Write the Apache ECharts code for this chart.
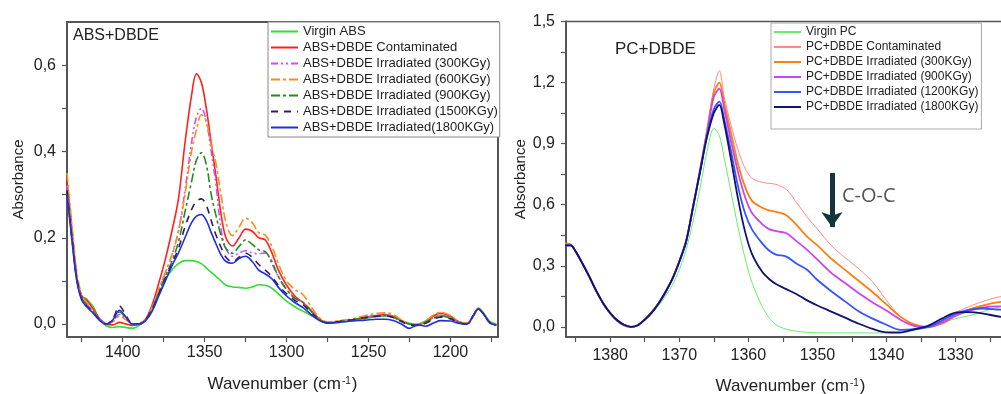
<!DOCTYPE html>
<html>
<head>
<meta charset="utf-8">
<script src="https://cdn.jsdelivr.net/npm/echarts@6/dist/echarts.min.js"></script>
<style>
html,body{margin:0;padding:0;background:#fff;}
#chart{width:1001px;height:394px;}
</style>
</head>
<body>
<div id="chart"></div>
<script>
// ---------- Left panel (ABS + DBDE) ----------
const absWavenumbers = [1434,1431,1428,1425,1422, 1418,1414,1410,1406,1402, 1398,1394,1390,1386,1382,
  1378,1374,1370,1366,1362, 1358,1355,1352,1349,1346, 1343,1340,1337,1333,1329,
  1325,1321,1317,1313,1309, 1305,1300,1295,1290,1285, 1280,1275,1268,1260,1252,
  1245,1240,1235,1230,1225, 1220,1215,1210,1206,1200, 1195,1190,1186,1183,1180, 1176,1172];
const absVirgin = [0.31,0.20,0.10,0.065,0.058, 0.04,0.01,-0.004,-0.008,-0.006, -0.008,-0.01,-0.003,0.01,0.035,
  0.07,0.103,0.125,0.14,0.147, 0.147,0.145,0.14,0.13,0.12, 0.11,0.10,0.09,0.086,0.085,
  0.083,0.086,0.091,0.09,0.083, 0.07,0.053,0.04,0.03,0.02, 0.01,0.003,0.005,0.008,0.013,
  0.017,0.019,0.016,0.008,0.002, 0.0,0.008,0.018,0.02,0.016, 0.006,0.001,0.02,0.037,0.027, 0.006,0.0];
const absContaminated = [0.33,0.22,0.11,0.065,0.055, 0.035,0.012,0.0,-0.002,0.004, 0.0,-0.003,0.0,0.012,0.045,
  0.095,0.15,0.215,0.29,0.42, 0.53,0.58,0.56,0.50,0.42, 0.34,0.255,0.20,0.181,0.20,
  0.22,0.215,0.20,0.195,0.165, 0.125,0.09,0.065,0.05,0.032, 0.012,0.003,0.005,0.01,0.015,
  0.02,0.022,0.018,0.008,0.0, -0.002,0.005,0.02,0.025,0.018, 0.005,0.002,0.02,0.035,0.025, 0.003,-0.002];
const abs300 = [0.32,0.21,0.11,0.06,0.045, 0.03,0.01,0.0,0.008,0.022, 0.012,0.0,0.0,0.01,0.038,
  0.078,0.118,0.16,0.215,0.31, 0.42,0.48,0.50,0.47,0.40, 0.32,0.22,0.175,0.157,0.165,
  0.17,0.165,0.163,0.165,0.14, 0.11,0.08,0.06,0.05,0.03, 0.01,0.003,0.006,0.01,0.016,
  0.02,0.021,0.017,0.008,0.0, -0.002,0.004,0.016,0.02,0.015, 0.004,0.0,0.02,0.035,0.024, 0.003,-0.002];
const abs600 = [0.35,0.23,0.12,0.068,0.05, 0.03,0.01,0.0,0.005,0.018, 0.01,0.0,0.0,0.012,0.04,
  0.08,0.12,0.16,0.215,0.30, 0.40,0.45,0.485,0.47,0.415, 0.37,0.30,0.235,0.205,0.225,
  0.245,0.235,0.212,0.206,0.18, 0.14,0.10,0.08,0.068,0.04, 0.015,0.005,0.008,0.012,0.02,
  0.025,0.026,0.022,0.01,0.0, 0.0,0.008,0.022,0.027,0.02, 0.006,0.002,0.02,0.036,0.025, 0.004,-0.001];
const abs900 = [0.31,0.20,0.105,0.06,0.045, 0.028,0.01,0.0,0.008,0.028, 0.014,0.0,0.0,0.01,0.036,
  0.072,0.11,0.145,0.19,0.26, 0.33,0.38,0.397,0.37,0.30, 0.25,0.205,0.175,0.164,0.18,
  0.195,0.185,0.172,0.168,0.145, 0.11,0.08,0.06,0.05,0.03, 0.01,0.003,0.006,0.01,0.015,
  0.019,0.02,0.016,0.007,0.0, -0.002,0.004,0.014,0.018,0.014, 0.004,0.0,0.02,0.035,0.025, 0.004,-0.002];
const abs1500 = [0.31,0.20,0.105,0.058,0.042, 0.026,0.01,0.0,0.012,0.042, 0.02,0.0,0.0,0.01,0.035,
  0.07,0.105,0.14,0.175,0.225, 0.265,0.285,0.29,0.275,0.24, 0.205,0.178,0.155,0.144,0.155,
  0.164,0.155,0.138,0.125,0.11, 0.09,0.07,0.055,0.045,0.027, 0.009,0.003,0.006,0.01,0.015,
  0.018,0.019,0.015,0.006,-0.002, -0.003,0.002,0.012,0.016,0.012, 0.003,0.0,0.02,0.035,0.024, 0.003,-0.003];
const abs1800 = [0.30,0.195,0.10,0.055,0.04, 0.025,0.008,0.0,0.01,0.032, 0.016,0.0,0.0,0.008,0.03,
  0.065,0.10,0.135,0.165,0.20, 0.235,0.25,0.254,0.24,0.212, 0.185,0.16,0.145,0.141,0.152,
  0.157,0.145,0.125,0.116,0.105, 0.085,0.065,0.05,0.038,0.022, 0.008,0.002,0.004,0.007,0.009,
  0.011,0.011,0.008,0.0,-0.01, -0.002,-0.005,0.003,0.008,0.007, 0.002,0.0,0.02,0.035,0.024, 0.003,-0.003];
const absNames = ['Virgin ABS','ABS+DBDE Contaminated','ABS+DBDE Irradiated (300KGy)','ABS+DBDE Irradiated (600KGy)',
  'ABS+DBDE Irradiated (900KGy)','ABS+DBDE Irradiated (1500KGy)','ABS+DBDE Irradiated(1800KGy)'];
const absXTicks = [1425,1400,1375,1350,1325,1300,1275,1250,1225,1200,1175];
const absXLabels = [1400,1350,1300,1250,1200];
const absYTicks = [0,0.1,0.2,0.3,0.4,0.5,0.6];
const absYLabels = [0,0.2,0.4,0.6];

// ---------- Right panel (PC + DBDE) ----------
const pcWavenumbers = [1386.5,1385.7,1385,1384,1383,1382,1381,1380,1379,1378,
  1377,1376,1375,1374,1373,1372,1371,1370,1369,1368,
  1367,1366,1365,1364.2,1363.5,1362.5,1361.5,1360.5,1359.5,1358,
  1357,1356,1354.5,1353,1351.5,1350,1348,1346,1344,1342,
  1340,1338,1336,1334,1332,1330,1328,1326,1324,1322];
const pcVirgin = [0.40,0.40,0.37,0.31,0.245,0.175,0.115,0.068,0.032,0.01,
  0.0,0.008,0.033,0.065,0.105,0.15,0.205,0.28,0.38,0.52,
  0.68,0.86,0.975,0.94,0.83,0.66,0.49,0.34,0.22,0.10,
  0.045,0.01,-0.012,-0.022,-0.027,-0.029,-0.03,-0.03,-0.03,-0.03,
  -0.03,-0.028,-0.018,-0.002,0.02,0.04,0.055,0.075,0.095,0.11];
const pcContaminated = [0.41,0.405,0.37,0.31,0.24,0.17,0.11,0.062,0.027,0.004,
  -0.002,0.008,0.036,0.072,0.118,0.174,0.24,0.325,0.425,0.595,
  0.77,0.97,1.17,1.258,1.13,0.99,0.87,0.78,0.73,0.71,
  0.705,0.70,0.675,0.61,0.54,0.48,0.40,0.34,0.285,0.22,
  0.13,0.05,0.008,0.0,0.025,0.07,0.10,0.125,0.145,0.155];
const pc300 = [0.41,0.405,0.37,0.31,0.242,0.172,0.112,0.065,0.03,0.007,
  0.0,0.009,0.036,0.072,0.117,0.172,0.238,0.323,0.423,0.592,
  0.77,0.96,1.15,1.20,1.10,0.95,0.80,0.69,0.62,0.585,
  0.572,0.565,0.548,0.50,0.443,0.40,0.335,0.28,0.225,0.17,
  0.11,0.05,0.012,0.0,0.015,0.055,0.085,0.105,0.12,0.125];
const pc900 = [0.40,0.40,0.37,0.31,0.245,0.175,0.115,0.068,0.032,0.01,
  0.0,0.008,0.035,0.07,0.115,0.17,0.235,0.32,0.42,0.59,
  0.77,0.95,1.13,1.17,1.07,0.91,0.76,0.64,0.56,0.505,
  0.48,0.47,0.46,0.42,0.378,0.33,0.265,0.215,0.165,0.12,
  0.08,0.035,0.005,-0.002,0.02,0.055,0.08,0.095,0.10,0.10];
const pc1200 = [0.40,0.40,0.37,0.31,0.245,0.175,0.115,0.068,0.032,0.01,
  0.0,0.008,0.035,0.07,0.115,0.17,0.235,0.32,0.42,0.59,
  0.76,0.94,1.07,1.106,1.02,0.86,0.69,0.56,0.48,0.41,
  0.375,0.355,0.345,0.31,0.28,0.23,0.175,0.125,0.075,0.04,
  0.01,-0.015,-0.012,0.0,0.03,0.065,0.085,0.09,0.085,0.083];
const pc1800 = [0.40,0.40,0.37,0.31,0.245,0.175,0.115,0.068,0.032,0.01,
  0.0,0.008,0.035,0.07,0.115,0.17,0.235,0.32,0.42,0.59,
  0.76,0.93,1.05,1.09,1.00,0.82,0.63,0.47,0.36,0.27,
  0.235,0.21,0.185,0.16,0.13,0.105,0.075,0.045,0.015,-0.01,
  -0.027,-0.028,-0.012,0.005,0.04,0.07,0.072,0.065,0.052,0.043];
const pcNames = ['Virgin PC','PC+DBDE Contaminated','PC+DBDE Irradiated (300KGy)','PC+DBDE Irradiated (900KGy)',
  'PC+DBDE Irradiated (1200KGy)','PC+DBDE Irradiated (1800KGy)'];
const pcXTicks = [1385,1380,1375,1370,1365,1360,1355,1350,1345,1340,1335,1330,1325];
const pcXLabels = [1380,1370,1360,1350,1340,1330];
const pcYTicks = [0,0.15,0.3,0.45,0.6,0.75,0.9,1.05,1.2,1.35,1.5];
const pcYLabels = [0,0.3,0.6,0.9,1.2,1.5];
const arrowX = 1347.9, arrowTop = 0.756, arrowBottom = 0.49;

// ---------- build ----------
const FONT = 'Liberation Sans';
const zip = (xs, ys) => xs.map((x, i) => [x, ys[i]]);
const fmtY = v => v.toFixed(1).replace('.', ',');
const fmtX = v => String(v);

function line(name, xs, ys, idx, color, width, type, smooth) {
  return {
    name, type: 'line', xAxisIndex: idx, yAxisIndex: idx,
    data: zip(xs, ys), symbol: 'none', showSymbol: false, smooth: smooth,
    color: color, lineStyle: { color, width, type },
    emphasis: { disabled: true }, silent: true, z: 3
  };
}

function xAxis(idx, min, max, ticks, labels, margin, nameGap) {
  return {
    gridIndex: idx, type: 'value', inverse: true, min, max,
    axisLine: { show: true, onZero: false, lineStyle: { color: '#555', width: 2 } },
    axisTick: { show: true, customValues: ticks, length: 5, lineStyle: { color: '#555', width: 1.2 } },
    axisLabel: { customValues: labels, formatter: fmtX, fontSize: 16, fontFamily: FONT, color: '#222', margin },
    splitLine: { show: false },
    name: 'Wavenumber (cm{sup|-1})', nameLocation: 'middle', nameGap,
    nameTextStyle: { fontSize: 17, fontFamily: FONT, color: '#222',
      rich: { sup: { fontSize: 10, fontFamily: FONT, color: '#222', verticalAlign: 'top', padding: [0, 1, 6, 1] } } }
  };
}
function yAxis(idx, min, max, ticks, labels, nameGap) {
  return {
    gridIndex: idx, type: 'value', min, max,
    axisLine: { show: true, onZero: false, lineStyle: { color: '#555', width: 2 } },
    axisTick: { show: true, customValues: ticks, length: 5, lineStyle: { color: '#555', width: 1.2 } },
    axisLabel: { customValues: labels, formatter: fmtY, fontSize: 16, fontFamily: FONT, color: '#222', margin: 11 },
    splitLine: { show: false },
    name: 'Absorbance', nameLocation: 'middle', nameGap, nameRotate: 90,
    nameTextStyle: { fontSize: 15, fontFamily: FONT, color: '#222' }
  };
}

const absColors = ['#33dd33', '#ff2020', '#d24dff', '#ff8c1a', '#228b22', '#3a1a5c', '#1f2fe0'];
const absTypes = ['solid', 'solid', [7, 3, 2, 3, 2, 3], [9, 3, 3, 3], [9, 3, 3, 3], [7, 6], 'solid'];
const absVals = [absVirgin, absContaminated, abs300, abs600, abs900, abs1500, abs1800];
const pcColors = ['#66ee66', '#ff8888', '#ff7f0e', '#cc44ee', '#3355ff', '#121270'];
const pcWidths = [1, 1, 1.8, 1.8, 1.8, 1.8];
const pcVals = [pcVirgin, pcContaminated, pc300, pc900, pc1200, pc1800];

const series = [];
absVals.forEach((v, i) => series.push(line(absNames[i], absWavenumbers, v, 0, absColors[i], 1.6, absTypes[i], 0.35)));
pcVals.forEach((v, i) => series.push(line(pcNames[i], pcWavenumbers, v, 1, pcColors[i], pcWidths[i], 'solid', 0.3)));
series[series.length - 1].markLine = {
  silent: true, animation: false, symbol: ['none', 'arrow'], symbolSize: [16, 15],
  label: { show: false }, lineStyle: { color: '#16343c', width: 5, type: 'solid' },
  data: [[{ coord: [arrowX, arrowTop] }, { coord: [arrowX, arrowBottom] }]]
};

const legendCommon = {
  orient: 'vertical', itemWidth: 27, borderWidth: 1, backgroundColor: '#fff', selectedMode: false,
  itemStyle: { opacity: 0, borderWidth: 0 }
};

const chart = echarts.init(document.getElementById('chart'), null, { renderer: 'canvas' });
chart.setOption({
  animation: false,
  backgroundColor: '#fff',
  grid: [
    { left: 67, right: 503, top: 22, bottom: 57, show: true, borderColor: '#555', borderWidth: 2,
      containLabel: false, outerBoundsMode: 'none' },
    { left: 566, right: -14, top: 21.5, bottom: 57, show: true, borderColor: '#555', borderWidth: 1.6,
      containLabel: false, outerBoundsMode: 'none' }
  ],
  xAxis: [xAxis(0, 1171, 1434, absXTicks, absXLabels, 8, 39), xAxis(1, 1321.4, 1386.4, pcXTicks, pcXLabels, 11, 41)],
  yAxis: [yAxis(0, -0.03, 0.70, absYTicks, absYLabels, 41), yAxis(1, -0.05, 1.5, pcYTicks, pcYLabels, 38)],
  legend: [
    Object.assign({}, legendCommon, { data: absNames, left: 268, top: 22, itemHeight: 13, itemGap: 3,
      padding: [3, 2, 3, 2], borderColor: '#888',
      textStyle: { fontSize: 13, fontFamily: FONT, color: '#222' } }),
    Object.assign({}, legendCommon, { data: pcNames, left: 771, top: 23, itemHeight: 12, itemGap: 3,
      padding: [3, 3, 16, 2], borderColor: '#aaa',
      textStyle: { fontSize: 12, fontFamily: FONT, color: '#222' } })
  ],
  graphic: [
    { type: 'text', x: 73, y: 36, style: { text: 'ABS+DBDE', font: '16px "Liberation Sans"', fill: '#222', verticalAlign: 'middle' } },
    { type: 'text', x: 615, y: 49, style: { text: 'PC+DBDE', font: '17px "Liberation Sans"', fill: '#222', verticalAlign: 'middle' } },
    { type: 'text', x: 842, y: 196, style: { text: 'C-O-C', font: '20px "Open Sans"', fill: '#555', verticalAlign: 'middle' } }
  ],
  series
});
</script>
</body>
</html>
